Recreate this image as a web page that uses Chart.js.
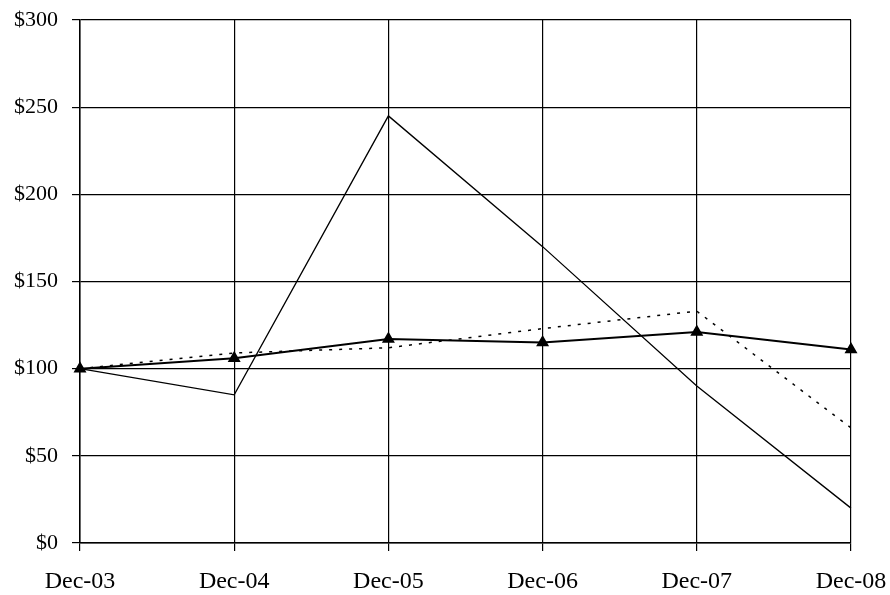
<!DOCTYPE html>
<html>
<head>
  <meta charset="utf-8">
  <title>Chart</title>
  <script src="https://cdn.jsdelivr.net/npm/chart.js@4/dist/chart.umd.min.js"></script>
  <style>
    body { margin: 0; background: #fff; }
  </style>
</head>
<body>
  <canvas id="c" width="890" height="595"></canvas>
  <script>
    // values
    var labels = ["Dec-03", "Dec-04", "Dec-05", "Dec-06", "Dec-07", "Dec-08"];
    var solid = [100, 85, 245, 170, 90, 20];
    var dotted = [100, 109, 112, 123, 133, 66];
    var marked = [100, 106, 117, 115, 121, 111];

    var serif = "'Liberation Serif', 'Times New Roman', serif";

    new Chart(document.getElementById("c"), {
      type: "line",
      data: {
        labels: labels,
        datasets: [{
          data: solid,
          borderColor: "#000",
          borderWidth: 1.3,
          pointRadius: 0,
          tension: 0
        }, {
          data: dotted,
          borderColor: "#000",
          borderWidth: 1.5,
          borderDash: [3, 7],
          pointRadius: 0,
          tension: 0
        }, {
          data: marked,
          borderColor: "#000",
          borderWidth: 2,
          pointStyle: "triangle",
          pointRadius: 5.5,
          pointBackgroundColor: "#000",
          pointBorderColor: "#000",
          tension: 0
        }]
      },
      options: {
        responsive: false,
        animation: false,
        layout: { padding: { top: 20, right: 39, left: 0, bottom: 0 } },
        plugins: { legend: { display: false }, tooltip: { enabled: false } },
        scales: {
          x: {
            offset: false,
            grid: { color: "#000", lineWidth: 1.2, tickLength: 8 },
            border: { color: "#000", width: 1.5 },
            ticks: {
              color: "#000",
              padding: 16,
              maxRotation: 0,
              font: { family: serif, size: 24 }
            },
            afterFit: function (s) {
              s.height = 52;
              s.paddingLeft = 0;
              s.paddingRight = 0;
            }
          },
          y: {
            min: 0,
            max: 300,
            grid: { color: "#000", lineWidth: 1.2, tickLength: 8 },
            border: { color: "#000", width: 1.5 },
            ticks: {
              stepSize: 50,
              color: "#000",
              padding: 14,
              font: { family: serif, size: 22 },
              callback: function (v) { return "$" + v; }
            },
            afterFit: function (s) {
              s.width = 80;
              s.paddingTop = 0;
              s.paddingBottom = 0;
            }
          }
        }
      }
    });
  </script>
</body>
</html>
